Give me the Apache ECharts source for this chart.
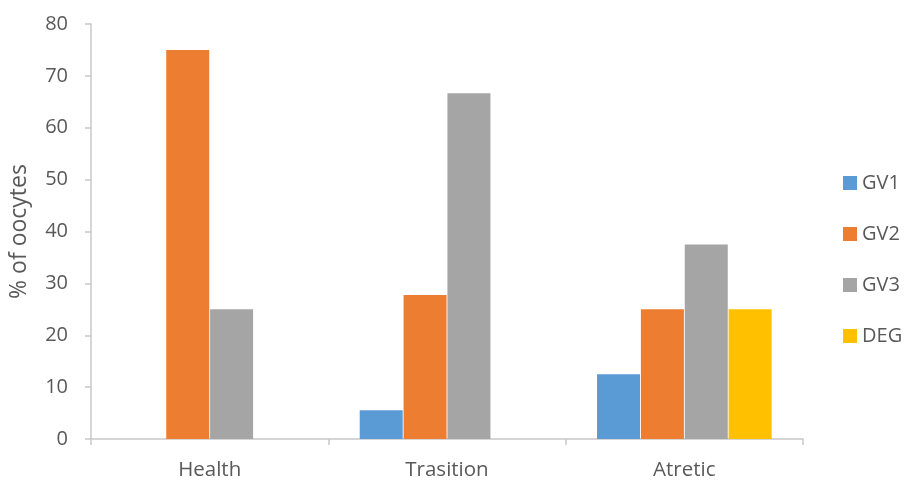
<!DOCTYPE html>
<html><head><meta charset="utf-8">
<script src="https://cdn.jsdelivr.net/npm/echarts@6/dist/echarts.min.js"></script>
<style>html,body{margin:0;padding:0;background:#fff}#c{width:906px;height:481px}</style>
</head><body><div id="c"></div>
<script>
const categories = ['Health', 'Trasition', 'Atretic'];
const seriesNames = ['GV1', 'GV2', 'GV3', 'DEG'];
const gv1 = [0, 5.56, 12.5];
const gv2 = [75, 27.78, 25];
const gv3 = [25, 66.67, 37.5];
const deg = [0, 0, 25];
const colors = ['#5B9BD5', '#ED7D31', '#A5A5A5', '#FFC000'];
const values = [gv1, gv2, gv3, deg];
const font = '"Open Sans", sans-serif';
const chart = echarts.init(document.getElementById('c'));
chart.setOption({
  animation: false,
  grid: {left: 91, right: 103, top: 24, bottom: 42},
  legend: {
    orient: 'vertical', left: 843, top: 173, padding: 0,
    itemWidth: 14, itemHeight: 14, itemGap: 31,
    icon: 'rect',
    textStyle: {fontFamily: font, fontSize: 20, color: '#595959'},
    data: seriesNames
  },
  xAxis: {
    type: 'category', data: categories,
    axisLine: {lineStyle: {color: '#C8C8C8', width: 1.5}},
    axisTick: {show: true, length: 6, lineStyle: {color: '#C8C8C8', width: 1.5}},
    axisLabel: {fontFamily: font, fontSize: 20.5, color: '#595959', margin: 21}
  },
  yAxis: {
    type: 'value', min: 0, max: 80, interval: 10,
    name: '% of oocytes', nameLocation: 'middle', nameGap: 60,
    nameTextStyle: {fontFamily: font, fontSize: 23, color: '#595959'},
    axisLine: {show: true, lineStyle: {color: '#C8C8C8', width: 1.5}},
    axisTick: {show: true, length: 6, lineStyle: {color: '#C8C8C8', width: 1.5}},
    splitLine: {show: false},
    axisLabel: {fontFamily: font, fontSize: 20, color: '#595959', margin: 23}
  },
  series: seriesNames.map((n, i) => ({
    name: n, type: 'bar', data: values[i], barWidth: 43, barGap: '2%',
    itemStyle: {color: colors[i]}
  }))
});
</script></body></html>
